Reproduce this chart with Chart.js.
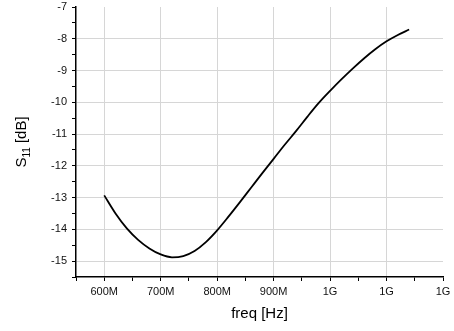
<!DOCTYPE html>
<html lang="en">
<head>
    <meta charset="UTF-8">
    <title>S11 vs freq</title>
    <script src="https://cdn.jsdelivr.net/npm/chart.js@4.4.0/dist/chart.umd.min.js"></script>
    <style>
        html, body { margin: 0; padding: 0; background: #fff; }
        #wrap { width: 454px; height: 331px; }
    </style>
</head>
<body>
<div id="wrap"><canvas id="s11-chart" width="454" height="331"></canvas></div>

<script>
    // frequency in MHz, S11 in dB
    const freqMHz = [600, 620, 640, 660, 680, 700, 720, 740, 760, 780, 800, 820, 840, 860, 880,
        900, 920, 940, 960, 980, 1000, 1020, 1040, 1060, 1080, 1100, 1120, 1140];
    const s11dB = [-12.93, -13.5, -13.97, -14.33, -14.6, -14.79, -14.88, -14.84, -14.68, -14.4, -14.03,
        -13.6, -13.15, -12.69, -12.23, -11.78, -11.33, -10.9, -10.45, -10.02, -9.64, -9.28, -8.94,
        -8.62, -8.33, -8.08, -7.88, -7.71];
    const xTicksMHz = [600, 700, 800, 900, 1000, 1100, 1200];
    const yTicks = [-15, -14, -13, -12, -11, -10, -9, -8, -7];

    const font = "'Liberation Sans', Arial, sans-serif";

    // y axis title with subscript, Chart.js titles can't do that
    const yTitlePlugin = {
        id: 'yTitle',
        afterDraw(chart) {
            const ctx = chart.ctx;
            const area = chart.chartArea;
            ctx.save();
            ctx.translate(26, (area.top + area.bottom) / 2);
            ctx.rotate(-Math.PI / 2);
            ctx.fillStyle = '#000';
            ctx.textBaseline = 'alphabetic';
            const big = '15px ' + font;
            const small = '10px ' + font;
            ctx.font = big;
            const wS = ctx.measureText('S').width;
            const wRest = ctx.measureText(' [dB]').width;
            ctx.font = small;
            const wSub = ctx.measureText('11').width;
            let x = -(wS + wSub + wRest) / 2;
            ctx.font = big;
            ctx.fillText('S', x, 0);
            x += wS;
            ctx.font = small;
            ctx.fillText('11', x, 4);
            x += wSub;
            ctx.font = big;
            ctx.fillText(' [dB]', x, 0);
            ctx.restore();
        }
    };

    const xMajor = v => xTicksMHz.includes(v) && v !== 1200;
    const yMajor = v => yTicks.includes(v) && v !== -7;

    new Chart(document.getElementById('s11-chart'), {
        type: 'line',
        data: {
            datasets: [{
                data: freqMHz.map((f, i) => ({ x: f, y: s11dB[i] })),
                borderColor: '#000',
                borderWidth: 1.8,
                pointRadius: 0,
                cubicInterpolationMode: 'monotone',
                fill: false
            }]
        },
        options: {
            responsive: false,
            animation: false,
            layout: { padding: { top: 7, right: 11, left: 0, bottom: 0 } },
            plugins: { legend: { display: false }, tooltip: { enabled: false } },
            scales: {
                x: {
                    type: 'linear',
                    min: 550,
                    max: 1200,
                    afterFit: s => {
                        s.height = 54;
                        s.paddingLeft = 0;
                        s.paddingRight = 0;
                    },
                    ticks: {
                        stepSize: 50,
                        autoSkip: false,
                        maxRotation: 0,
                        padding: 4,
                        color: '#111',
                        font: { family: font, size: 11 },
                        callback: v => xTicksMHz.includes(v) ? (v >= 1000 ? Math.round(v / 1000) + 'G' : v + 'M') : ''
                    },
                    grid: {
                        color: c => (c.tick && xMajor(c.tick.value)) ? '#d6d6d6' : 'rgba(0,0,0,0)',
                        tickColor: '#000',
                        tickLength: 4,
                        drawTicks: true
                    },
                    border: { display: true, color: '#000', width: 1.5 },
                    title: {
                        display: true,
                        text: 'freq [Hz]',
                        color: '#000',
                        font: { family: font, size: 15 },
                        padding: { top: 4, bottom: 8 }
                    }
                },
                y: {
                    min: -15.5,
                    max: -7,
                    afterFit: s => {
                        s.width = 76;
                        s.paddingTop = 0;
                        s.paddingBottom = 0;
                    },
                    ticks: {
                        stepSize: 0.5,
                        autoSkip: false,
                        padding: 5,
                        color: '#111',
                        font: { family: font, size: 11 },
                        callback: v => Number.isInteger(v) ? String(v) : ''
                    },
                    grid: {
                        color: c => (c.tick && yMajor(c.tick.value)) ? '#d6d6d6' : 'rgba(0,0,0,0)',
                        tickColor: '#000',
                        tickLength: 4,
                        drawTicks: true
                    },
                    border: { display: true, color: '#000', width: 1.5 }
                }
            }
        },
        plugins: [yTitlePlugin]
    });
</script>
</body>
</html>
